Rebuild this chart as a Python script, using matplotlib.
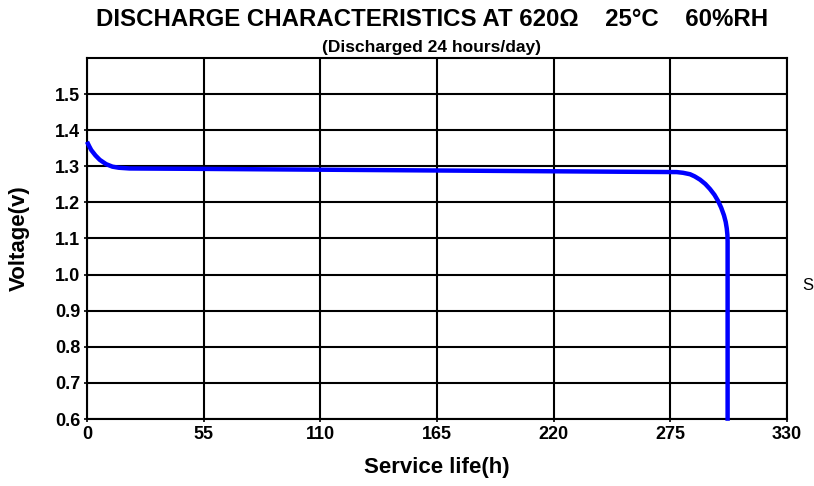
import numpy as np
import matplotlib
matplotlib.use("Agg")
from matplotlib import pyplot as plt

plt.rcParams['font.family'] = ['Liberation Sans', 'DejaVu Sans']

# Discharge curve
hours = [0, 1, 2, 4, 6, 9, 12, 15, 20, 50, 100, 150, 200, 250, 278, 281,
         284.3, 286.5, 289, 291.5, 293.7, 295.8, 297.6, 299, 300.3, 301.1,
         301.6, 301.9, 302, 302]
volts = [1.368, 1.356, 1.345, 1.330, 1.318, 1.306, 1.299, 1.296, 1.294, 1.293,
         1.291, 1.289, 1.287, 1.285, 1.284, 1.282, 1.278, 1.272, 1.263, 1.251,
         1.237, 1.221, 1.203, 1.185, 1.164, 1.146, 1.128, 1.110, 1.092, 0.595]

x_ticks = [0, 55, 110, 165, 220, 275, 330]
y_ticks = [0.6, 0.7, 0.8, 0.9, 1.0, 1.1, 1.2, 1.3, 1.4, 1.5]

fig = plt.figure(figsize=(8.14, 4.86), dpi=100)
ax = fig.add_axes([87/814, 1 - 419/486, 700/814, 361/486])

ax.plot(hours, volts, color='#0000ff', lw=3.2, clip_on=False, zorder=3,
        solid_capstyle='butt', solid_joinstyle='round')

ax.set_xlim(0, 330)
ax.set_ylim(0.6, 1.6)
ax.set_xticks(x_ticks)
ax.set_yticks(y_ticks)
ax.set_yticklabels(['%.1f' % v for v in y_ticks])
ax.grid(True, color='black', lw=1.5)
for s in ax.spines.values():
    s.set_color('black')
    s.set_linewidth(1.5)
ax.tick_params(length=2, width=1.2, labelsize=13, pad=3)
for lab in ax.get_xticklabels() + ax.get_yticklabels():
    lab.set_fontweight('bold')

ax.set_xlabel('Service life(h)', fontsize=16, fontweight='bold', labelpad=10)
ax.set_ylabel('Voltage(v)', fontsize=16, fontweight='bold', labelpad=18)

fig.text(432/814, 1 - 20/486, 'DISCHARGE CHARACTERISTICS AT 620Ω    25°C    60%RH',
         ha='center', va='center', fontsize=17.3, fontweight='bold')
fig.text(432/814, 1 - 47/486, '(Discharged 24 hours/day)',
         ha='center', va='center', fontsize=12.5, fontweight='bold')
fig.text(808/814, 1 - 286/486, 'S', ha='center', va='center', fontsize=12)

fig.savefig('out.png', dpi=100)
